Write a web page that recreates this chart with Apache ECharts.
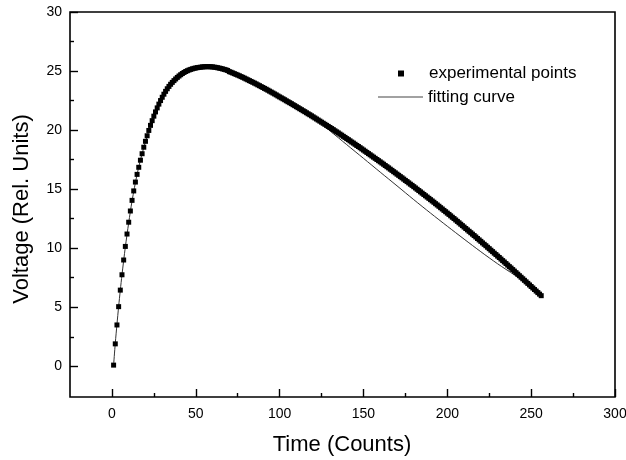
<!DOCTYPE html>
<html>
<head>
<meta charset="utf-8">
<script src="https://cdn.jsdelivr.net/npm/echarts@6/dist/echarts.min.js"></script>
<style>
html,body{margin:0;padding:0;background:#fff;}
#chart{width:626px;height:460px;}
</style>
</head>
<body>
<div id="chart"></div>
<script>
// Experimental points: one per count, starting at count 1
var firstCount = 1;
var voltage = [
 0.10, 1.90, 3.50, 5.05, 6.45, 7.75, 9.00, 10.15, 11.20, 12.20,
 13.15, 14.05, 14.85, 15.60, 16.25, 16.85, 17.45, 18.00, 18.55, 19.05,
 19.52, 19.97, 20.40, 20.80, 21.18, 21.54, 21.88, 22.20, 22.50, 22.78,
 23.04, 23.28, 23.50, 23.70, 23.88, 24.04, 24.19, 24.33, 24.46, 24.58,
 24.69, 24.79, 24.88, 24.96, 25.03, 25.09, 25.14, 25.19, 25.23, 25.26,
 25.29, 25.31, 25.33, 25.35, 25.36, 25.37, 25.37, 25.37, 25.36, 25.35,
 25.33, 25.31, 25.28, 25.25, 25.22, 25.18, 25.14, 25.10, 25.05, 24.95,
 24.90, 24.84, 24.78, 24.72, 24.66, 24.60, 24.53, 24.47, 24.40, 24.33,
 24.26, 24.19, 24.12, 24.05, 23.98, 23.91, 23.83, 23.76, 23.68, 23.61,
 23.53, 23.46, 23.38, 23.30, 23.22, 23.14, 23.06, 22.98, 22.89, 22.81,
 22.73, 22.65, 22.57, 22.48, 22.40, 22.32, 22.24, 22.15, 22.07, 21.98,
 21.90, 21.81, 21.73, 21.64, 21.56, 21.47, 21.38, 21.30, 21.21, 21.12,
 21.03, 20.94, 20.85, 20.76, 20.67, 20.58, 20.49, 20.40, 20.31, 20.22,
 20.13, 20.04, 19.94, 19.85, 19.76, 19.66, 19.57, 19.47, 19.38, 19.28,
 19.19, 19.09, 18.99, 18.90, 18.80, 18.70, 18.61, 18.51, 18.41, 18.31,
 18.21, 18.11, 18.01, 17.91, 17.81, 17.71, 17.61, 17.51, 17.41, 17.31,
 17.21, 17.11, 17.00, 16.90, 16.80, 16.69, 16.59, 16.48, 16.38, 16.27,
 16.17, 16.06, 15.96, 15.85, 15.74, 15.64, 15.53, 15.42, 15.32, 15.21,
 15.10, 14.99, 14.88, 14.77, 14.66, 14.55, 14.44, 14.33, 14.22, 14.11,
 14.00, 13.89, 13.77, 13.66, 13.55, 13.43, 13.32, 13.20, 13.09, 12.97,
 12.86, 12.74, 12.62, 12.51, 12.39, 12.27, 12.15, 12.03, 11.91, 11.79,
 11.67, 11.55, 11.43, 11.31, 11.19, 11.07, 10.95, 10.82, 10.70, 10.58,
 10.45, 10.33, 10.21, 10.08, 9.96, 9.83, 9.71, 9.58, 9.46, 9.33,
 9.21, 9.08, 8.95, 8.83, 8.70, 8.57, 8.44, 8.32, 8.19, 8.06,
 7.93, 7.80, 7.67, 7.54, 7.41, 7.28, 7.15, 7.02, 6.89, 6.76,
 6.63, 6.50, 6.37, 6.24, 6.11, 5.98
];

// Fitting curve
var fitTime = [1, 2, 3, 4, 5, 6, 8, 10, 12, 15, 18, 22, 26, 30, 35, 40, 45, 50, 55, 60, 65, 70, 80, 90, 100, 110, 120, 130, 140, 150, 160, 170, 180, 190, 200, 210, 220, 230, 240, 248, 256];
var fitVoltage = [0.10, 1.95, 3.55, 5.05, 6.45, 7.75, 10.10, 12.15, 14.00, 16.25, 18.00, 19.95, 21.50, 22.75, 23.85, 24.60, 25.05, 25.30, 25.42, 25.45, 25.35, 25.12, 24.40, 23.62, 22.80, 21.97, 21.10, 19.94, 18.77, 17.61, 16.44, 15.28, 14.11, 12.97, 11.86, 10.77, 9.70, 8.68, 7.74, 6.98, 5.98];

// Axis ticks
var xMajorTicks = [0, 50, 100, 150, 200, 250, 300];
var xMinorTicks = [25, 75, 125, 175, 225, 275];
var yMajorTicks = [0, 5, 10, 15, 20, 25, 30];
var yMinorTicks = [2.5, 7.5, 12.5, 17.5, 22.5, 27.5];
var xRange = [-25, 300];
var yRange = [-2.6, 30];

var seriesNames = ['experimental points', 'fitting curve'];
var xTitle = 'Time (Counts)';
var yTitle = 'Voltage (Rel. Units)';

var FONT = '"Liberation Sans", Arial, Helvetica, sans-serif';

var expData = voltage.map(function (v, i) { return [firstCount + i, v]; });
var fitData = fitTime.map(function (t, i) { return [t, fitVoltage[i]]; });

var chart = echarts.init(document.getElementById('chart'), null, {renderer: 'canvas'});

var grid = {
  left: 70, right: 11, top: 12, bottom: 63,
  show: true, borderColor: '#000', borderWidth: 1.6, backgroundColor: 'transparent',
  containLabel: false, outerBoundsMode: 'none'
};

function baseAxis(pos, range, extra) {
  return Object.assign({
    type: 'value', position: pos, min: range[0], max: range[1],
    splitLine: {show: false},
    axisLine: {show: false, onZero: false},
    minorTick: {show: false},
    minorSplitLine: {show: false},
    axisTick: {show: false},
    axisLabel: {show: false}
  }, extra);
}
function tickAxis(pos, range, values, len) {
  return baseAxis(pos, range, {
    axisTick: {show: true, inside: true, length: len, customValues: values, lineStyle: {color: '#000', width: 1.4}}
  });
}
function labelAxis(pos, range, values, margin) {
  return baseAxis(pos, range, {
    axisLabel: {show: true, customValues: values, margin: margin, color: '#000', fontSize: 14, fontFamily: FONT}
  });
}

var option = {
  animation: false,
  backgroundColor: '#fff',
  grid: grid,
  xAxis: [
    labelAxis('bottom', xRange, xMajorTicks, 10),
    tickAxis('bottom', xRange, xMajorTicks, 8),
    tickAxis('bottom', xRange, xMinorTicks, 4)
  ],
  yAxis: [
    labelAxis('left', yRange, yMajorTicks, 8),
    tickAxis('left', yRange, yMajorTicks, 8),
    tickAxis('left', yRange, yMinorTicks, 4)
  ],
  legend: [
    {
      data: [{name: seriesNames[0], icon: 'rect'}],
      left: 398, top: 65, orient: 'vertical', padding: 0,
      itemWidth: 6, itemHeight: 6,
      selectedMode: false,
      itemStyle: {color: '#000'},
      textStyle: {color: '#000', fontSize: 17, fontFamily: FONT, padding: [0, 0, 0, 20]}
    },
    {
      data: [{name: seriesNames[1], icon: 'rect'}],
      left: 378, top: 88.5, orient: 'vertical', padding: 0,
      itemWidth: 45, itemHeight: 1.2,
      selectedMode: false,
      itemStyle: {color: '#444', borderWidth: 0},
      textStyle: {color: '#000', fontSize: 17, fontFamily: FONT}
    }
  ],
  graphic: [
    {type: 'text', x: 342, y: 445, style: {text: xTitle, font: '22px ' + FONT, fill: '#000', align: 'center', verticalAlign: 'middle'}},
    {type: 'text', x: 22, y: 209, rotation: Math.PI / 2, style: {text: yTitle, font: '22px ' + FONT, fill: '#000', align: 'center', verticalAlign: 'middle'}}
  ],
  series: [
    {
      name: seriesNames[1], type: 'line', data: fitData,
      xAxisIndex: 0, yAxisIndex: 0,
      symbol: 'none', smooth: 0.3, z: 2,
      lineStyle: {color: '#333', width: 1},
      itemStyle: {color: '#333'}
    },
    {
      name: seriesNames[0], type: 'scatter', data: expData,
      xAxisIndex: 0, yAxisIndex: 0,
      symbol: 'rect', symbolSize: 5, z: 3,
      itemStyle: {color: '#000', opacity: 1}
    }
  ]
};

chart.setOption(option);
</script>
</body>
</html>
